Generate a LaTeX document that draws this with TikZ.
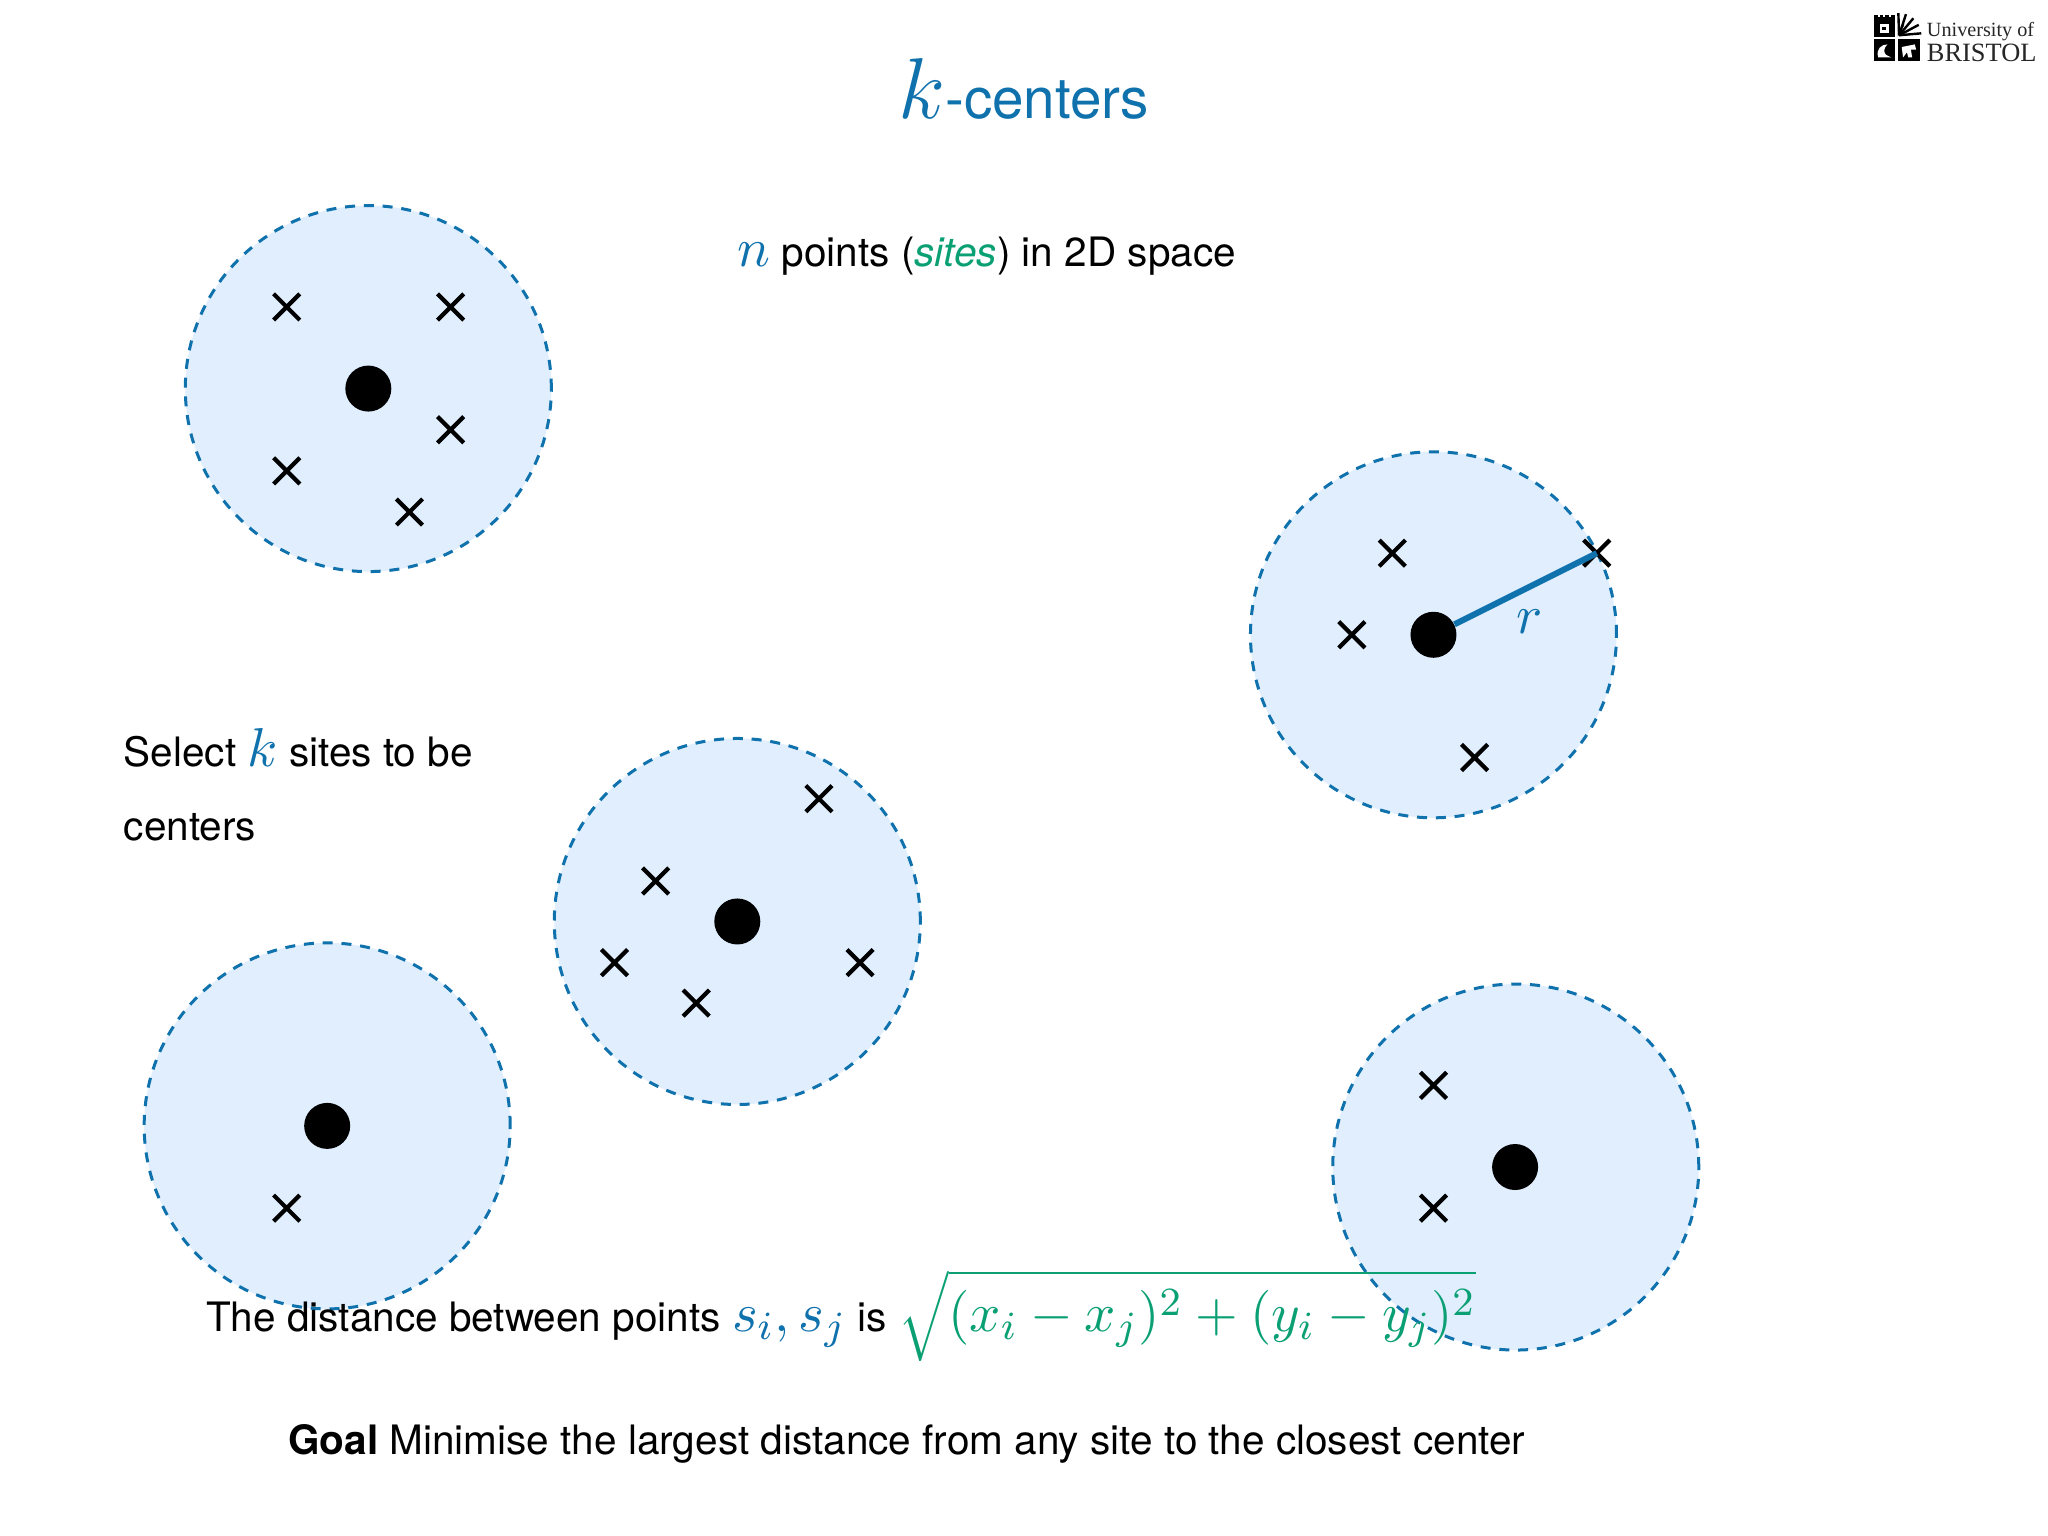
\documentclass[tikz,border=0pt,11pt]{standalone}
\usepackage{fontspec}
\setmainfont{TeX Gyre Heros}[Scale=0.74]
\newfontfamily\logofont{Liberation Serif}
\usetikzlibrary{shapes.misc}
\definecolor{kblue}{HTML}{0F72AD}
\definecolor{kgreen}{HTML}{0BA074}
\definecolor{kfill}{HTML}{E0EEFE}
\tikzset{
  clusterdisc/.style={circle,draw=kblue,fill=kfill,line width=1.5pt,dash pattern=on 5pt off 4.4pt,minimum size=183pt,inner sep=0pt},
  centerdot/.style={circle,fill=black,minimum size=23pt,inner sep=0pt},
  sitemark/.style={cross out,draw=black,line width=2.1pt,minimum size=11pt,inner sep=0pt},
  label/.style={anchor=base west,inner sep=0pt,scale=2.5,transform shape},
  radius/.style={draw=kblue,line width=3pt}
}
\begin{document}
\begin{tikzpicture}[x=0.653pt,y=-0.653pt]
\useasboundingbox (0,0) rectangle (1568,1176);
\fill[white] (0,0) rectangle (1568,1176);

% discs
\node[clusterdisc] (discA) at (282,297.5) {};
\node[clusterdisc] (discB) at (1097.5,486) {};
\node[clusterdisc] (discC) at (564.5,705.5) {};
\node[clusterdisc] (discD) at (250.5,862) {};
\node[clusterdisc] (discE) at (1160.5,893.5) {};

% centers
\node[centerdot] (cA) at (282,297.5) {};
\node[centerdot] (cB) at (1097.5,486) {};
\node[centerdot] (cC) at (564.5,705.5) {};
\node[centerdot] (cD) at (250.5,862) {};
\node[centerdot] (cE) at (1160,893.5) {};

% radius
\node[sitemark] (b1) at (1222.5,423.5) {};
\draw[radius] (cB) -- (b1.center);
\node[inner sep=0pt,text=kblue,scale=2.5,transform shape] (rlabel) at (1171,476) {$r$};

% sites
\node[sitemark] (a1) at (219.5,235) {};
\node[sitemark] (a2) at (345,235) {};
\node[sitemark] (a3) at (345,329) {};
\node[sitemark] (a4) at (219.5,360.5) {};
\node[sitemark] (a5) at (313.5,392) {};
\node[sitemark] (b2) at (1066,423.5) {};
\node[sitemark] (b3) at (1035,486) {};
\node[sitemark] (b4) at (1129,580) {};
\node[sitemark] (c1) at (627,611.5) {};
\node[sitemark] (c2) at (502,674.5) {};
\node[sitemark] (c3) at (470.5,737) {};
\node[sitemark] (c4) at (533,768) {};
\node[sitemark] (c5) at (658.5,737) {};
\node[sitemark] (d1) at (219.5,925) {};
\node[sitemark] (e1) at (1097.5,831) {};
\node[sitemark] (e2) at (1097.5,925) {};

% title
\node[label,text=kblue] (title) at (687,91) {{\fontsize{18}{20}\selectfont$k$}{\fontsize{15.3}{17}\selectfont -centers}};

% texts
\node[label] (t1) at (564,204) {\textcolor{kblue}{$n$} points (\textcolor{kgreen}{\textit{sites}}) in 2D space};
\node[label] (t2) at (94,587) {Select \textcolor{kblue}{$k$} sites to be};
\node[label] (t3) at (94,643.5) {centers};
\node[label] (t4) at (157,1019.5) {The distance between points \textcolor{kblue}{$s_i,s_j$} is \textcolor{kgreen}{$\sqrt{(x_i-x_j)^2+(y_i-y_j)^2}$}};
\node[label] (t5) at (220,1113.5) {\textbf{Goal} Minimise the largest distance from any site to the closest center};

% logo
\fill[black] (1434.5,11.5) rectangle (1451,28);
\fill[black] (1434.5,30) rectangle (1451,47);
\fill[black] (1453,30) rectangle (1470,47);
\fill[white] (1437.5,11) rectangle (1439,13);
\fill[white] (1442,11) rectangle (1443.5,13);
\fill[white] (1446.5,11) rectangle (1448,13);
\fill[white] (1439,18) rectangle (1446,25);
\fill[black] (1441,21) rectangle (1444,23);
\fill[white] (1438,44) .. controls (1436,37) and (1441,34) .. (1445,34) .. controls (1442,37) and (1442,40) .. (1444,42) -- (1448,44) -- cycle;
\fill[white] (1456,36) -- (1466,34) -- (1467,38) -- (1463,38) -- (1464,44) -- (1461,44) -- (1460,40) -- (1457,44) -- cycle;
\fill[black] (1453,28) -- (1453,23) arc (90:0:5) -- cycle;
\foreach \ang in {5,28,50,72,92} {
  \draw[black,line width=1.2pt] (1454,27) -- ++(-\ang:17);
}
\node[anchor=base west,inner sep=0pt,text=black!85] (logoA) at (1475,28) {\logofont\fontsize{10.1}{12}\selectfont University of};
\node[anchor=base west,inner sep=0pt,text=black!85] (logoB) at (1475,47) {\logofont\fontsize{13.2}{16}\selectfont BRISTOL};
\end{tikzpicture}
\end{document}
